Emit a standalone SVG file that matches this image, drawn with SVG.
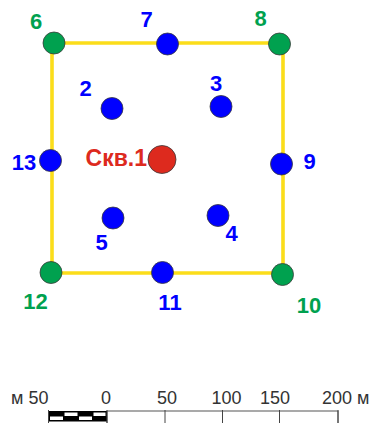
<svg xmlns="http://www.w3.org/2000/svg" width="374" height="423" viewBox="0 0 374 423">
<style>
.lbl{font-family:"Liberation Sans",Arial,sans-serif;font-weight:bold;font-size:22px;text-anchor:middle}
.b{fill:#0000ff}
.g{fill:#00a14f}
.r{fill:#dd2a1e}
.nd{stroke:#3a3a3a;stroke-width:0.8}
.sc{font-family:"Liberation Sans",Arial,sans-serif;font-size:18px;fill:#333;text-anchor:middle}
</style>
<rect width="374" height="423" fill="#fff"/>
<g id="connectors" fill="none" stroke="#fbdd1a" stroke-width="3.6">
<polyline points="53,43 283,43 283,273 52,273 52,43"/>
</g>
<g id="n6"><circle class="g nd" cx="54" cy="43" r="11"/><text class="lbl g" x="36" y="29">6</text></g>
<g id="n7"><circle class="b nd" cx="167.5" cy="44" r="11"/><text class="lbl b" x="146.5" y="27">7</text></g>
<g id="n8"><circle class="g nd" cx="279.5" cy="44" r="11"/><text class="lbl g" x="260.5" y="25.5">8</text></g>
<g id="n2"><circle class="b nd" cx="112" cy="108.5" r="11"/><text class="lbl b" x="85.5" y="96">2</text></g>
<g id="n3"><circle class="b nd" cx="221" cy="106.5" r="11"/><text class="lbl b" x="216" y="91">3</text></g>
<g id="n13"><circle class="b nd" cx="50.5" cy="160.5" r="11"/><text class="lbl b" x="24" y="170">13</text></g>
<g id="n1"><circle class="r nd" cx="162" cy="159.5" r="14"/><text class="lbl r" x="147" y="166" style="text-anchor:end;font-size:23px">Скв.1</text></g>
<g id="n9"><circle class="b nd" cx="281.5" cy="164" r="11"/><text class="lbl b" x="309.5" y="169">9</text></g>
<g id="n5"><circle class="b nd" cx="113" cy="218" r="11"/><text class="lbl b" x="101.5" y="249.5">5</text></g>
<g id="n4"><circle class="b nd" cx="218" cy="215.5" r="11"/><text class="lbl b" x="231.5" y="241">4</text></g>
<g id="n12"><circle class="g nd" cx="51" cy="272.5" r="11"/><text class="lbl g" x="35.5" y="308.5">12</text></g>
<g id="n11"><circle class="b nd" cx="162.5" cy="272.5" r="11"/><text class="lbl b" x="170" y="309.5">11</text></g>
<g id="n10"><circle class="g nd" cx="282.5" cy="274.5" r="11"/><text class="lbl g" x="309" y="313">10</text></g>
<g id="scale">
<rect x="107" y="411" width="231" height="14" fill="#fff" stroke="#555" stroke-width="1"/>
<rect x="48.5" y="411" width="58.5" height="10.5" fill="#000"/>
<rect x="50" y="416.5" width="13" height="3.5" fill="#fff"/>
<rect x="64.5" y="412.5" width="13" height="3.5" fill="#fff"/>
<rect x="79" y="416.5" width="13" height="3.5" fill="#fff"/>
<rect x="93.5" y="412.5" width="12" height="3.5" fill="#fff"/>
<g stroke="#444" stroke-width="1">
<line x1="48.5" y1="410" x2="48.5" y2="423"/>
<line x1="107" y1="410" x2="107" y2="423"/>
<line x1="165" y1="410" x2="165" y2="423"/>
<line x1="222.5" y1="410" x2="222.5" y2="423"/>
<line x1="279.5" y1="410" x2="279.5" y2="423"/>
<line x1="338" y1="410" x2="338" y2="423"/>
</g>
<text class="sc" x="48.5" y="403.5" style="text-anchor:end">м 50</text>
<text class="sc" x="106" y="403.5">0</text>
<text class="sc" x="167" y="403.5">50</text>
<text class="sc" x="226.5" y="403.5">100</text>
<text class="sc" x="275" y="403.5">150</text>
<text class="sc" x="322" y="403.5" style="text-anchor:start">200 м</text>
</g>
</svg>
